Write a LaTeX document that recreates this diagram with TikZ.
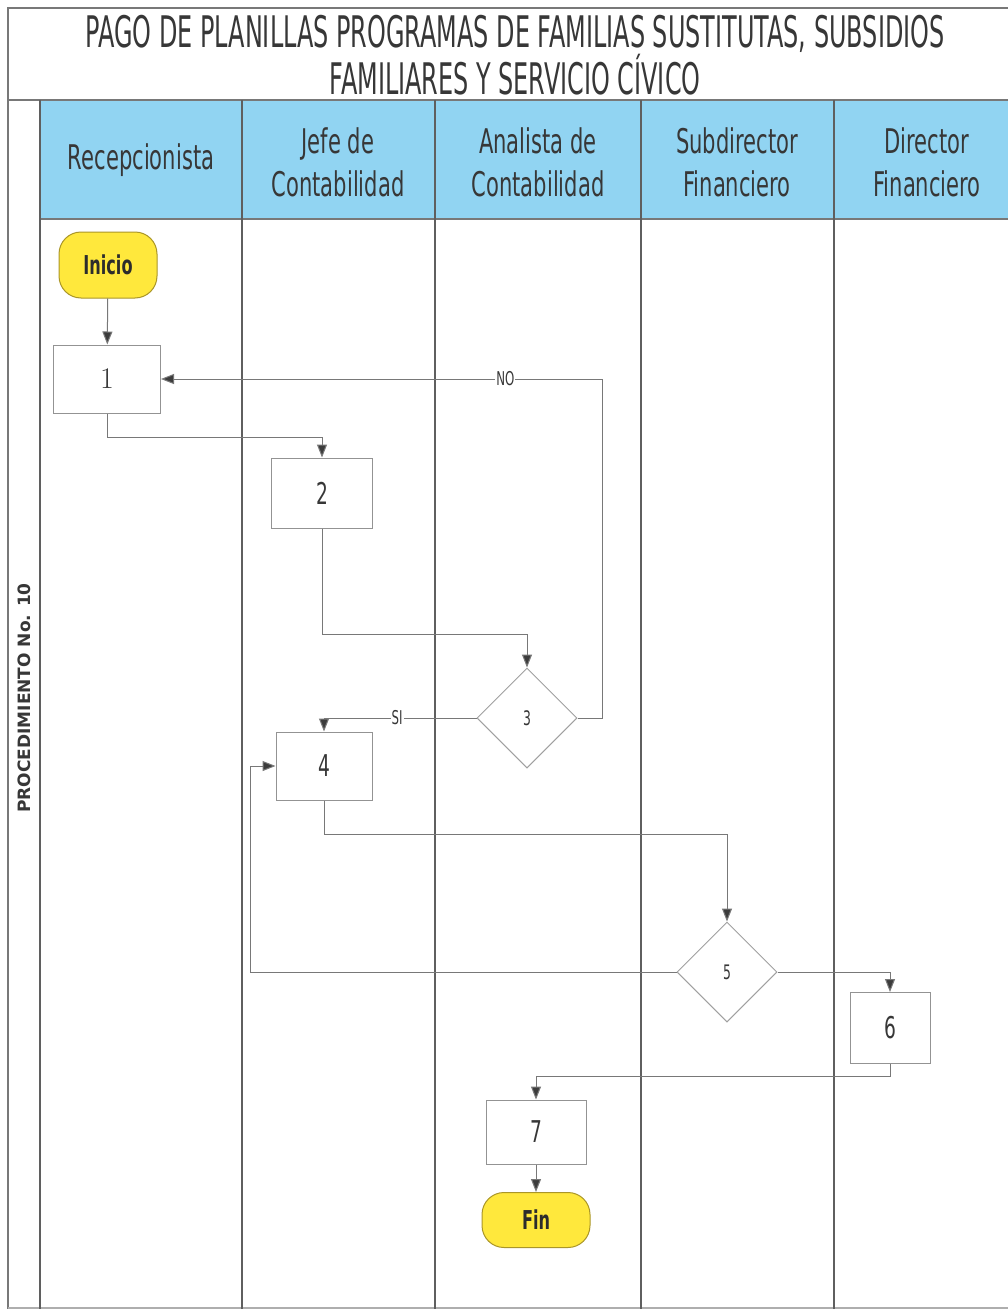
\documentclass[tikz,border=0pt]{standalone}
\usepackage{fontspec}
\usetikzlibrary{arrows.meta,shapes.geometric}
\newfontfamily\titlefont[FakeStretch=0.55]{DejaVu Sans}
\newfontfamily\condfont[FakeStretch=0.62]{DejaVu Sans}
\newfontfamily\sidefont{DejaVu Sans}
\definecolor{hdrblue}{RGB}{145,212,242}
\definecolor{lanegray}{RGB}{95,95,95}
\definecolor{linegray}{RGB}{120,120,120}
\definecolor{tipgray}{RGB}{60,60,60}
\definecolor{startyellow}{RGB}{255,232,60}
\definecolor{startborder}{RGB}{170,150,40}
\definecolor{txt}{RGB}{55,55,55}
\tikzset{
  lane/.style={draw=lanegray, line width=1.2pt},
  frame/.style={draw=linegray, line width=1.2pt},
  proc/.style={draw=linegray!80, line width=1pt, fill=white, minimum width=100pt, minimum height=68pt, inner sep=0pt, font=\condfont\fontsize{30}{30}\selectfont, text=txt},
  dec/.style={draw=linegray!70, line width=1pt, diamond, fill=white, minimum width=100pt, minimum height=100pt, inner sep=0pt, font=\condfont\fontsize{20}{20}\selectfont, text=txt},
  term/.style={draw=startborder, line width=1pt, fill=startyellow, rounded corners=22pt, font=\condfont\bfseries\fontsize{26}{26}\selectfont, text=txt!80!black, inner sep=0pt},
  conn/.style={draw=linegray, line width=1pt, -{Triangle[length=13pt,width=10pt,fill=tipgray]}},
  hdr/.style={font=\condfont\fontsize{34}{43}\selectfont, text=txt, align=center},
  lbl/.style={fill=white, inner sep=1pt, font=\condfont\fontsize{19}{19}\selectfont, text=txt}
}
\begin{document}
\begin{tikzpicture}[x=1pt,y=-1pt]
\useasboundingbox (0,0) rectangle (1008,1311);
\fill[white] (0,0) rectangle (1008,1311);
% header band
\fill[hdrblue] (40,100) rectangle (1008,219);
% frame lines
\draw[frame] (1008,8) -- (8,8) -- (8,1309);
\draw[frame] (8,100) -- (1008,100);
\draw[frame] (40,219) -- (1008,219);
\draw[frame, draw=linegray!60] (8,1308) -- (1008,1308);
\foreach \xx in {40,242,435,641,834} {\draw[lane] (\xx,100) -- (\xx,1309);}
% title
\node[font=\titlefont\fontsize{43.5}{44}\selectfont, text=txt, align=center] (title) at (515,55)
  {PAGO DE PLANILLAS PROGRAMAS DE FAMILIAS SUSTITUTAS, SUBSIDIOS\\FAMILIARES Y SERVICIO CÍVICO};
% lane headers
\node[hdr] (h1) at (141,160) {Recepcionista};
\node[hdr] (h2) at (338,162) {Jefe de\\Contabilidad};
\node[hdr] (h3) at (538,162) {Analista de\\Contabilidad};
\node[hdr] (h4) at (737,162) {Subdirector\\Financiero};
\node[hdr] (h5) at (927,162) {Director\\Financiero};
% side label
\node[rotate=90, font=\sidefont\bfseries\fontsize{17}{17}\selectfont, text=txt] (side) at (24,698) {PROCEDIMIENTO No. 10};
% nodes
\node[term, minimum width=98pt, minimum height=66pt] (ini) at (108,265) {Inicio};
\node[proc, minimum width=107pt, font=\fontsize{30}{30}\selectfont] (n1) at (107,379) {1};
\node[proc, minimum width=101pt, minimum height=70pt] (n2) at (322,493) {2};
\node[dec] (d3) at (527,718) {3};
\node[proc, minimum width=96pt, minimum height=68pt] (n4) at (324,766) {4};
\node[dec] (d5) at (727,972) {5};
\node[proc, minimum width=80pt, minimum height=71pt] (n6) at (890,1028) {6};
\node[proc, minimum width=100pt, minimum height=64pt] (n7) at (536,1132) {7};
\node[term, minimum width=108pt, minimum height=55pt] (fin) at (536,1220) {Fin};
% connectors
\draw[conn] (ini) -- (n1);
\draw[conn] (n1.south) -- ++(0,24) -| (n2.north);
\draw[conn] (n2.south) -- ++(0,106) -| (d3.north);
\draw[conn] (d3.east) -- ++(25,0) |- node[lbl, pos=0.61] {NO} (n1.east);
\draw[conn] (d3.west) -| node[lbl, pos=0.26] {SI} (n4.north);
\draw[conn] (n4.south) -- ++(0,34) -| (d5.north);
\draw[conn] (d5.west) -- ++(-426,0) |- (n4.west);
\draw[conn] (d5.east) -| (n6.north);
\draw[conn] (n6.south) -- ++(0,12) -| (n7.north);
\draw[conn] (n7) -- (fin);
\end{tikzpicture}
\end{document}
